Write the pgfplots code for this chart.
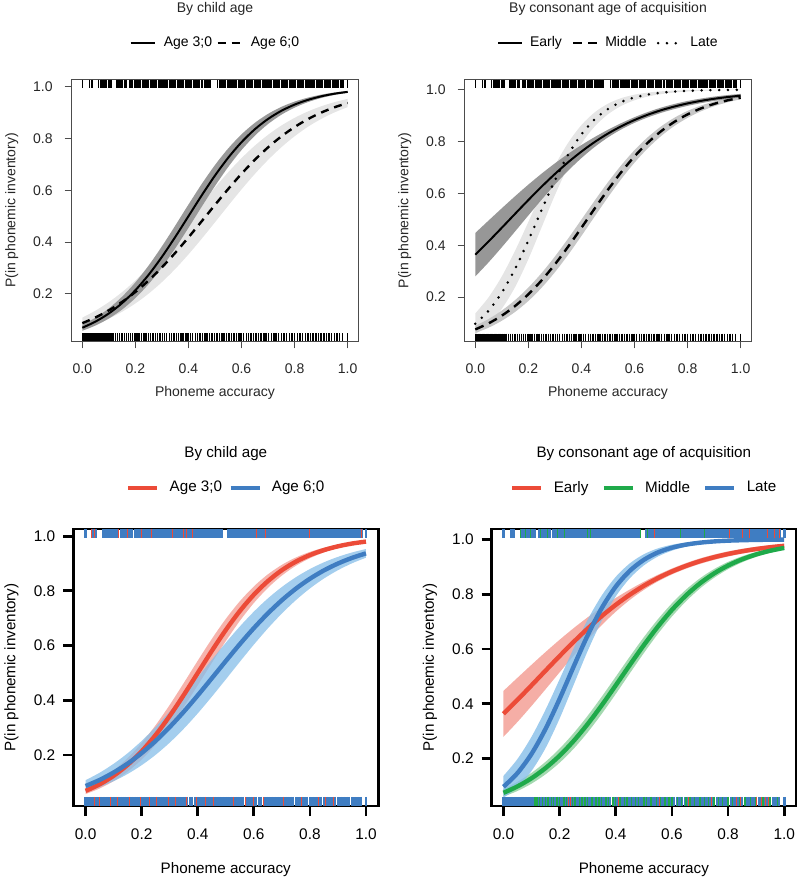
\documentclass[border=0pt]{standalone}
\usepackage{fontspec}
\setmainfont{Liberation Sans}
\usepackage{pgfplots}
\usepackage{pgfplotstable}
\pgfplotsset{compat=1.18}
\usepgfplotslibrary{fillbetween}

\definecolor{rline}{HTML}{EC4B38}
\definecolor{rband}{HTML}{F39A90}
\definecolor{bline}{HTML}{3F7DC2}
\definecolor{bband}{HTML}{86BEE8}
\definecolor{gline}{HTML}{1FAA4A}
\definecolor{gband}{HTML}{8DD09C}

% fitted curves: x, estimate, lower, upper
\pgfplotstableread{
x p lo hi
0.00 0.0692 0.0576 0.0808
0.05 0.0932 0.0780 0.1084
0.10 0.1245 0.1049 0.1441
0.15 0.1645 0.1397 0.1893
0.20 0.2142 0.1839 0.2445
0.25 0.2739 0.2381 0.3097
0.30 0.3430 0.3024 0.3836
0.35 0.4195 0.3757 0.4633
0.40 0.5000 0.4550 0.5450
0.45 0.5805 0.5367 0.6243
0.50 0.6570 0.6164 0.6976
0.55 0.7261 0.6903 0.7619
0.60 0.7858 0.7555 0.8161
0.65 0.8355 0.8107 0.8603
0.70 0.8755 0.8559 0.8951
0.75 0.9068 0.8916 0.9220
0.80 0.9308 0.9192 0.9424
0.85 0.9490 0.9403 0.9577
0.90 0.9627 0.9562 0.9692
0.95 0.9728 0.9680 0.9776
1.00 0.9800 0.9765 0.9835
}\tabA
\pgfplotstableread{
x p lo hi
0.00 0.0870 0.0656 0.1084
0.05 0.1093 0.0830 0.1356
0.10 0.1365 0.1047 0.1683
0.15 0.1690 0.1311 0.2069
0.20 0.2075 0.1631 0.2519
0.25 0.2521 0.2012 0.3030
0.30 0.3026 0.2456 0.3596
0.35 0.3583 0.2962 0.4204
0.40 0.4182 0.3525 0.4839
0.45 0.4806 0.4132 0.5480
0.50 0.5436 0.4766 0.6106
0.55 0.6053 0.5408 0.6698
0.60 0.6638 0.6035 0.7241
0.65 0.7176 0.6629 0.7723
0.70 0.7658 0.7174 0.8142
0.75 0.8080 0.7661 0.8499
0.80 0.8442 0.8087 0.8797
0.85 0.8747 0.8451 0.9043
0.90 0.8998 0.8754 0.9242
0.95 0.9204 0.9006 0.9402
1.00 0.9370 0.9211 0.9529
}\tabB
\pgfplotstableread{
x p lo hi
0.00 0.3635 0.2797 0.4473
0.05 0.4146 0.3340 0.4952
0.10 0.4675 0.3924 0.5426
0.15 0.5212 0.4533 0.5891
0.20 0.5744 0.5150 0.6338
0.25 0.6260 0.5758 0.6762
0.30 0.6748 0.6338 0.7158
0.35 0.7201 0.6876 0.7526
0.40 0.7613 0.7362 0.7864
0.45 0.7982 0.7792 0.8172
0.50 0.8307 0.8159 0.8455
0.55 0.8588 0.8467 0.8709
0.60 0.8829 0.8720 0.8938
0.65 0.9033 0.8930 0.9136
0.70 0.9206 0.9105 0.9307
0.75 0.9349 0.9251 0.9447
0.80 0.9469 0.9375 0.9563
0.85 0.9567 0.9478 0.9656
0.90 0.9648 0.9565 0.9731
0.95 0.9714 0.9638 0.9790
1.00 0.9768 0.9700 0.9836
}\tabE
\pgfplotstableread{
x p lo hi
0.00 0.0752 0.0613 0.0891
0.05 0.0986 0.0819 0.1153
0.10 0.1284 0.1087 0.1481
0.15 0.1656 0.1428 0.1884
0.20 0.2108 0.1850 0.2366
0.25 0.2646 0.2362 0.2930
0.30 0.3263 0.2960 0.3566
0.35 0.3947 0.3633 0.4261
0.40 0.4675 0.4360 0.4990
0.45 0.5418 0.5112 0.5724
0.50 0.6142 0.5852 0.6432
0.55 0.6819 0.6552 0.7086
0.60 0.7427 0.7185 0.7669
0.65 0.7953 0.7739 0.8167
0.70 0.8396 0.8210 0.8582
0.75 0.8757 0.8598 0.8916
0.80 0.9047 0.8913 0.9181
0.85 0.9274 0.9163 0.9385
0.90 0.9451 0.9360 0.9542
0.95 0.9586 0.9511 0.9661
1.00 0.9689 0.9629 0.9749
}\tabM
\pgfplotstableread{
x p lo hi
0.00 0.0971 0.0572 0.1370
0.05 0.1474 0.0959 0.1989
0.10 0.2175 0.1550 0.2800
0.15 0.3089 0.2387 0.3791
0.20 0.4182 0.3464 0.4900
0.25 0.5362 0.4695 0.6029
0.30 0.6502 0.5931 0.7073
0.35 0.7493 0.7033 0.7953
0.40 0.8278 0.7920 0.8636
0.45 0.8854 0.8582 0.9126
0.50 0.9255 0.9051 0.9459
0.55 0.9524 0.9375 0.9673
0.60 0.9698 0.9590 0.9806
0.65 0.9810 0.9734 0.9886
0.70 0.9881 0.9827 0.9935
0.75 0.9926 0.9889 0.9963
0.80 0.9954 0.9929 0.9979
0.85 0.9971 0.9954 0.9988
0.90 0.9982 0.9971 0.9993
0.95 0.9989 0.9982 0.9996
1.00 0.9993 0.9988 0.9998
}\tabL

% rug positions: phoneme accuracy of each item, o = in inventory (1) or not (0)
\pgfplotstableread[row sep=\\]{x o\\
0.000 1\\0.028 1\\0.036 1\\0.062 1\\0.071 1\\0.078 1\\0.085 1\\0.092 1\\0.098 1\\0.104 1\\0.110 1\\0.128 1\\
0.134 1\\0.140 1\\0.146 1\\0.152 1\\0.158 1\\0.164 1\\0.178 1\\0.184 1\\0.190 1\\0.196 1\\0.202 1\\0.208 1\\
0.214 1\\0.220 1\\0.226 1\\0.232 1\\0.238 1\\0.244 1\\0.250 1\\0.256 1\\0.262 1\\0.268 1\\0.274 1\\0.280 1\\
0.286 1\\0.292 1\\0.298 1\\0.304 1\\0.310 1\\0.316 1\\0.322 1\\0.328 1\\0.334 1\\0.340 1\\0.346 1\\0.352 1\\
0.358 1\\0.364 1\\0.370 1\\0.376 1\\0.382 1\\0.388 1\\0.394 1\\0.400 1\\0.406 1\\0.412 1\\0.418 1\\0.424 1\\
0.430 1\\0.436 1\\0.442 1\\0.448 1\\0.454 1\\0.460 1\\0.466 1\\0.472 1\\0.478 1\\0.484 1\\0.510 1\\0.516 1\\
0.522 1\\0.528 1\\0.534 1\\0.540 1\\0.546 1\\0.552 1\\0.558 1\\0.564 1\\0.570 1\\0.576 1\\0.582 1\\0.588 1\\
0.594 1\\0.600 1\\0.606 1\\0.612 1\\0.618 1\\0.624 1\\0.630 1\\0.636 1\\0.642 1\\0.648 1\\0.654 1\\0.660 1\\
0.666 1\\0.672 1\\0.678 1\\0.684 1\\0.690 1\\0.696 1\\0.702 1\\0.708 1\\0.714 1\\0.720 1\\0.726 1\\0.732 1\\
0.738 1\\0.744 1\\0.750 1\\0.756 1\\0.762 1\\0.768 1\\0.774 1\\0.780 1\\0.786 1\\0.792 1\\0.798 1\\0.804 1\\
0.810 1\\0.816 1\\0.822 1\\0.828 1\\0.834 1\\0.840 1\\0.846 1\\0.852 1\\0.858 1\\0.864 1\\0.870 1\\0.876 1\\
0.882 1\\0.888 1\\0.894 1\\0.900 1\\0.906 1\\0.912 1\\0.918 1\\0.924 1\\0.930 1\\0.936 1\\0.942 1\\0.948 1\\
0.954 1\\0.960 1\\0.966 1\\0.972 1\\0.978 1\\0.984 1\\1.000 1\\}\rugtop
\pgfplotstableread[row sep=\\]{x o\\
0.000 0\\0.005 0\\0.010 0\\0.015 0\\0.020 0\\0.025 0\\0.030 0\\0.035 0\\0.040 0\\0.045 0\\0.050 0\\0.055 0\\
0.060 0\\0.065 0\\0.070 0\\0.075 0\\0.080 0\\0.085 0\\0.090 0\\0.095 0\\0.100 0\\0.108 0\\0.116 0\\0.124 0\\
0.132 0\\0.140 0\\0.150 0\\0.158 0\\0.166 0\\0.174 0\\0.182 0\\0.190 0\\0.198 0\\0.206 0\\0.214 0\\0.224 0\\
0.232 0\\0.240 0\\0.250 0\\0.258 0\\0.266 0\\0.276 0\\0.284 0\\0.292 0\\0.302 0\\0.310 0\\0.318 0\\0.328 0\\
0.336 0\\0.346 0\\0.354 0\\0.362 0\\0.372 0\\0.380 0\\0.390 0\\0.398 0\\0.408 0\\0.416 0\\0.426 0\\0.434 0\\
0.444 0\\0.452 0\\0.462 0\\0.470 0\\0.480 0\\0.488 0\\0.498 0\\0.508 0\\0.516 0\\0.526 0\\0.534 0\\0.544 0\\
0.552 0\\0.562 0\\0.572 0\\0.580 0\\0.590 0\\0.598 0\\0.608 0\\0.618 0\\0.626 0\\0.636 0\\0.646 0\\0.654 0\\
0.664 0\\0.674 0\\0.684 0\\0.692 0\\0.702 0\\0.712 0\\0.722 0\\0.730 0\\0.740 0\\0.750 0\\0.760 0\\0.770 0\\
0.780 0\\0.790 0\\0.800 0\\0.810 0\\0.820 0\\0.830 0\\0.840 0\\0.850 0\\0.860 0\\0.870 0\\0.880 0\\0.890 0\\
0.900 0\\0.910 0\\0.920 0\\0.930 0\\0.940 0\\0.950 0\\0.960 0\\0.970 0\\0.980 0\\1.000 0\\}\rugbot
\pgfplotstableread[row sep=\\]{x o\\
0.022 1\\0.030 1\\0.117 1\\0.150 1\\0.200 1\\0.235 1\\0.310 1\\0.350 1\\0.360 1\\0.380 1\\0.610 1\\
0.640 1\\0.800 1\\0.985 1\\}\rugtopA
\pgfplotstableread[row sep=\\]{x o\\
0.033 0\\0.051 0\\0.087 0\\0.113 0\\0.158 0\\0.194 0\\0.229 0\\0.253 0\\0.295 0\\0.319 0\\0.360 0\\
0.396 0\\0.426 0\\0.455 0\\0.527 0\\0.569 0\\0.598 0\\0.634 0\\0.705 0\\0.770 0\\0.830 0\\0.854 0\\
0.883 0\\}\rugbotA
\pgfplotstableread[row sep=\\]{x o\\
0.062 1\\0.080 1\\0.097 1\\0.133 1\\0.157 1\\0.193 1\\0.216 1\\0.299 1\\0.311 1\\0.489 1\\0.513 1\\
0.632 1\\0.715 1\\}\rugtopG
\pgfplotstableread[row sep=\\]{x o\\
0.537 1\\0.804 1\\0.852 1\\0.875 1\\0.940 1\\0.964 1\\0.982 1\\}\rugtopR
\pgfplotstableread[row sep=\\]{x o\\
0.112 0\\0.120 0\\0.128 0\\0.140 0\\0.150 0\\0.158 0\\0.170 0\\0.178 0\\0.190 0\\0.200 0\\0.215 0\\
0.225 0\\0.245 0\\0.255 0\\0.270 0\\0.280 0\\0.290 0\\0.300 0\\0.315 0\\0.330 0\\0.340 0\\0.350 0\\
0.365 0\\0.375 0\\0.390 0\\0.400 0\\0.415 0\\0.430 0\\0.440 0\\0.455 0\\0.470 0\\0.480 0\\0.500 0\\
0.510 0\\0.525 0\\0.545 0\\0.560 0\\0.575 0\\0.590 0\\0.600 0\\0.620 0\\0.635 0\\0.650 0\\0.665 0\\
0.680 0\\0.700 0\\0.715 0\\0.730 0\\0.750 0\\0.765 0\\0.780 0\\0.800 0\\0.815 0\\0.840 0\\0.860 0\\
0.880 0\\0.900 0\\0.925 0\\0.950 0\\0.975 0\\}\rugbotG
\pgfplotstableread[row sep=\\]{x o\\
0.230 0\\0.240 0\\0.410 0\\0.555 0\\0.660 0\\0.740 0\\0.830 0\\0.845 0\\0.900 0\\0.920 0\\0.935 0\\
0.945 0\\}\rugbotR

\pgfplotsset{
  panel/.style={
    scale only axis,
    xtick={0,0.2,0.4,0.6,0.8,1},
    ytick={0.2,0.4,0.6,0.8,1},
    tick align=outside,
    tick pos=left,
    /pgf/number format/fixed,
    /pgf/number format/fixed zerofill,
    /pgf/number format/precision=1,
    /pgf/number format/assume math mode=true,
    xlabel={Phoneme accuracy},
    ylabel={P(in phonemic inventory)},
    title style={anchor=center, yshift=-6pt},
    legend style={anchor=center, draw=none, fill=none, legend columns=-1,
      inner sep=0pt, nodes={inner sep=0.6pt}},
  },
  toppanel/.style={panel,
    width=143.3pt, height=130.8pt,
    xmin=-0.04, xmax=1.04,
    axis line style={draw=black!70, line width=0.5pt},
    tick style={draw=black!70, line width=0.5pt},
    major tick length=3.5pt,
    tick label style={font=\fontsize{7}{8}\selectfont, text=black!85},
    xticklabel style={yshift=-4pt},
    yticklabel style={xshift=-2.5pt},
    label style={font=\fontsize{7}{8}\selectfont, text=black!85},
    title style={font=\fontsize{7}{8}\selectfont, text=black!85, at={(0.5,1.27)}},
    xlabel style={at={(axis description cs:0.5,-0.198)}, anchor=center},
    ylabel style={at={(axis description cs:-0.209,0.5)}, anchor=center},
    legend style={at={(0.5,1.14)}, font=\fontsize{7}{8}\selectfont},
    legend image code/.code={\draw[##1] (0pt,0pt) -- (12pt,0pt);},
  },
  botpanel/.style={panel,
    height=138.5pt,
    axis line style={draw=black, line width=1.4pt, line cap=rect},
    tick style={draw=black, line width=1.4pt},
    major tick length=5pt,
    tick label style={font=\fontsize{7.7}{9}\selectfont},
    xticklabel style={yshift=-3pt},
    yticklabel style={xshift=-0.5pt},
    label style={font=\fontsize{7.6}{9}\selectfont},
    title style={font=\fontsize{7.6}{9}\selectfont, at={(0.5,1.271)}},
    xlabel style={at={(axis description cs:0.5,-0.231)}, anchor=center},
    ylabel style={at={(axis description cs:-0.203,0.5)}, anchor=center},
    legend style={at={(0.5,1.148)}, font=\fontsize{7.6}{9}\selectfont},
    legend image code/.code={\draw[##1] (0pt,0pt) -- (14.5pt,0pt);},
  },
  toprug/.style={forget plot, only marks, mark=|, mark size=1.96pt,
    mark options={line width=0.7pt, draw=black}},
  botrug/.style 2 args={forget plot, only marks, mark=|, mark size=2.3pt,
    mark options={line width=#1, draw=#2}},
}

\begin{document}
\begin{tikzpicture}

% ---------- top left: by child age (greyscale)
\begin{axis}[toppanel, at={(35.85pt,270.85pt)}, anchor=south west,
  ymin=0.017, ymax=1.027,
  title={By child age},
  legend style={/tikz/every odd column/.append style={column sep=3.5pt},
    /tikz/every even column/.append style={column sep=1.5pt}}]
\addplot[forget plot, draw=none, name path=tlBlo, smooth] table[x=x,y=lo]{\tabB};
\addplot[forget plot, draw=none, name path=tlBhi, smooth] table[x=x,y=hi]{\tabB};
\addplot[forget plot, fill=black!10, draw=none] fill between[of=tlBlo and tlBhi];
\addplot[forget plot, draw=none, name path=tlAlo, smooth] table[x=x,y=lo]{\tabA};
\addplot[forget plot, draw=none, name path=tlAhi, smooth] table[x=x,y=hi]{\tabA};
\addplot[forget plot, fill=black!40, draw=none] fill between[of=tlAlo and tlAhi];
\addplot[toprug] table[x=x, y expr=1.0109]{\rugtop};
\addplot[toprug] table[x=x, y expr=0.0322]{\rugbot};
\addplot[black, line width=1pt, smooth] table[x=x,y=p]{\tabA};
\addlegendentry{Age 3;0}
\addplot[black, line width=1.2pt, dash pattern=on 4pt off 3pt, smooth] table[x=x,y=p]{\tabB};
\addlegendentry{Age 6;0}
\end{axis}

% ---------- top right: by consonant age of acquisition (greyscale)
\begin{axis}[toppanel, at={(232.35pt,270.8pt)}, anchor=south west,
  ymin=0.029, ymax=1.038,
  title={By consonant age of acquisition},
  legend style={/tikz/every odd column/.append style={column sep=2.8pt},
    /tikz/every even column/.append style={column sep=4.5pt}}]
\addplot[forget plot, draw=none, name path=trLlo, smooth] table[x=x,y=lo]{\tabL};
\addplot[forget plot, draw=none, name path=trLhi, smooth] table[x=x,y=hi]{\tabL};
\addplot[forget plot, fill=black!10, draw=none] fill between[of=trLlo and trLhi];
\addplot[forget plot, draw=none, name path=trMlo, smooth] table[x=x,y=lo]{\tabM};
\addplot[forget plot, draw=none, name path=trMhi, smooth] table[x=x,y=hi]{\tabM};
\addplot[forget plot, fill=black!22, draw=none] fill between[of=trMlo and trMhi];
\addplot[forget plot, draw=none, name path=trElo, smooth] table[x=x,y=lo]{\tabE};
\addplot[forget plot, draw=none, name path=trEhi, smooth] table[x=x,y=hi]{\tabE};
\addplot[forget plot, fill=black!45, fill opacity=0.9, draw=none] fill between[of=trElo and trEhi];
\addplot[toprug] table[x=x, y expr=1.0229]{\rugtop};
\addplot[toprug] table[x=x, y expr=0.0442]{\rugbot};
\addplot[black, line width=1pt, smooth] table[x=x,y=p]{\tabE};
\addlegendentry{Early}
\addplot[black, line width=1.2pt, dash pattern=on 4.5pt off 3pt, smooth] table[x=x,y=p]{\tabM};
\addlegendentry{Middle}
\addplot[black, line width=1.4pt, line cap=round, dash pattern=on 0pt off 4.4pt, smooth] table[x=x,y=p]{\tabL};
\addlegendentry{Late}
\end{axis}

% ---------- bottom left: by child age (colour)
\begin{axis}[botpanel, at={(36.65pt,38.5pt)}, anchor=south west,
  width=152.5pt, xmin=-0.044, xmax=1.044,
  ymin=0.014, ymax=1.026,
  title={By child age},
  legend style={/tikz/every odd column/.append style={column sep=4.5pt},
    /tikz/every even column/.append style={column sep=2.5pt}}]
\addplot[forget plot, draw=none, name path=blAlo, smooth] table[x=x,y=lo]{\tabA};
\addplot[forget plot, draw=none, name path=blAhi, smooth] table[x=x,y=hi]{\tabA};
\addplot[forget plot, fill=rband, fill opacity=0.75, draw=none] fill between[of=blAlo and blAhi];
\addplot[forget plot, draw=none, name path=blBlo, smooth] table[x=x,y=lo]{\tabB};
\addplot[forget plot, draw=none, name path=blBhi, smooth] table[x=x,y=hi]{\tabB};
\addplot[forget plot, fill=bband, fill opacity=0.75, draw=none] fill between[of=blBlo and blBhi];
\addplot[botrug={1.3pt}{bline}] table[x=x, y expr=1.0092]{\rugtop};
\addplot[botrug={0.5pt}{rline}] table[x=x, y expr=1.0092]{\rugtopA};
\addplot[botrug={1.3pt}{bline}] table[x=x, y expr=0.0308]{\rugbot};
\addplot[botrug={0.5pt}{rline}] table[x=x, y expr=0.0308]{\rugbotA};
\addplot[rline, line width=2.2pt, smooth] table[x=x,y=p]{\tabA};
\addlegendentry{Age 3;0}
\addplot[bline, line width=2.2pt, smooth] table[x=x,y=p]{\tabB};
\addlegendentry{Age 6;0}
\end{axis}

% ---------- bottom right: by consonant age of acquisition (colour)
\begin{axis}[botpanel, at={(245.85pt,38.5pt)}, anchor=south west,
  width=152.15pt, xmin=-0.042, xmax=1.042,
  ymin=0.027, ymax=1.038,
  title={By consonant age of acquisition},
  legend style={/tikz/every odd column/.append style={column sep=4.5pt},
    /tikz/every even column/.append style={column sep=6pt}}]
\addplot[forget plot, draw=none, name path=brElo, smooth] table[x=x,y=lo]{\tabE};
\addplot[forget plot, draw=none, name path=brEhi, smooth] table[x=x,y=hi]{\tabE};
\addplot[forget plot, fill=rband, fill opacity=0.8, draw=none] fill between[of=brElo and brEhi];
\addplot[forget plot, draw=none, name path=brMlo, smooth] table[x=x,y=lo]{\tabM};
\addplot[forget plot, draw=none, name path=brMhi, smooth] table[x=x,y=hi]{\tabM};
\addplot[forget plot, fill=gband, fill opacity=0.8, draw=none] fill between[of=brMlo and brMhi];
\addplot[forget plot, draw=none, name path=brLlo, smooth] table[x=x,y=lo]{\tabL};
\addplot[forget plot, draw=none, name path=brLhi, smooth] table[x=x,y=hi]{\tabL};
\addplot[forget plot, fill=bband, fill opacity=0.8, draw=none] fill between[of=brLlo and brLhi];
\addplot[botrug={1.3pt}{bline}] table[x=x, y expr=1.0212]{\rugtop};
\addplot[botrug={0.5pt}{gline}] table[x=x, y expr=1.0212]{\rugtopG};
\addplot[botrug={0.5pt}{rline}] table[x=x, y expr=1.0212]{\rugtopR};
\addplot[botrug={1.3pt}{bline}] table[x=x, y expr=0.0438]{\rugbot};
\addplot[botrug={0.7pt}{gline}] table[x=x, y expr=0.0438]{\rugbotG};
\addplot[botrug={0.5pt}{rline}] table[x=x, y expr=0.0438]{\rugbotR};
\addplot[rline, line width=2.2pt, smooth] table[x=x,y=p]{\tabE};
\addlegendentry{Early}
\addplot[gline, line width=2.2pt, smooth] table[x=x,y=p]{\tabM};
\addlegendentry{Middle}
\addplot[bline, line width=2.2pt, smooth] table[x=x,y=p]{\tabL};
\addlegendentry{Late}
\end{axis}

\pgfresetboundingbox
\useasboundingbox (0pt,0pt) rectangle (400pt,441.5pt);
\end{tikzpicture}
\end{document}
